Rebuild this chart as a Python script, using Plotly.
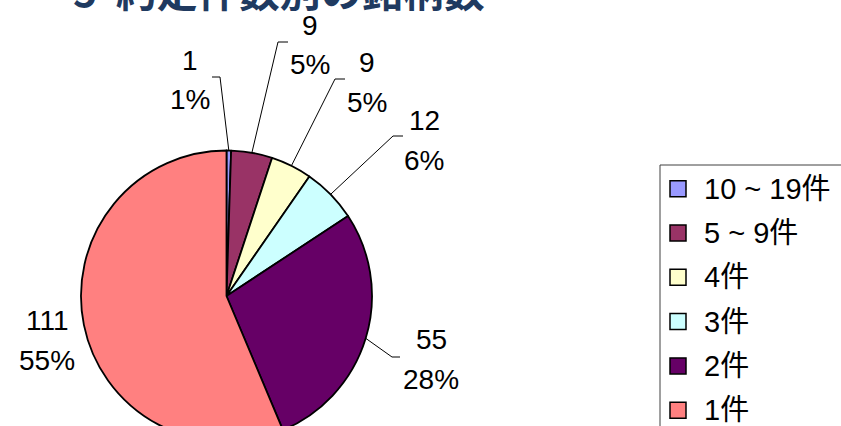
import math
import plotly.graph_objects as go

# ---- data ----
categories = ["10 ~ 19件", "5 ~ 9件", "4件", "3件", "2件", "1件"]
counts = [1, 9, 9, 12, 55, 111]
pct_labels = ["1%", "5%", "5%", "6%", "28%", "55%"]
title_text = "5\u00a0\u00a0約定件数別の銘柄数"

# ---- style / layout ----
colors = ["#9999FF", "#993366", "#FFFFCC", "#CCFFFF", "#660066", "#FF8080"]
W, H = 841, 460
CX, CY, R = 226.5, 296.0, 145.5
# label first-line centre (px) and leader-line elbow (px) per slice
label_pos = [(190, 60), (310, 25), (367, 62), (424, 120), (431, 339), (47, 320)]
elbows = [((220, 77), (212, 77)), ((278, 42), (288, 42)), ((335, 79), (345, 79)),
          ((393, 136), (403, 136)), ((392, 357), (400, 357)), None]
LINE_GAP = 40
FONT = "Liberation Sans, Arial, Noto Sans CJK JP, sans-serif"


def px(x):
    return x / W


def py(y):
    return (H - y) / H


fig = go.Figure()
fig.add_trace(go.Pie(
    labels=categories, values=counts, sort=False, direction="clockwise",
    rotation=0, textinfo="none", showlegend=False,
    marker=dict(colors=colors, line=dict(color="black", width=1.8)),
    domain=dict(x=[px(CX - R), px(CX + R)], y=[py(CY + R), py(CY - R)]),
))

annotations = []
shapes = []
total = sum(counts)
cum = 0
for i, v in enumerate(counts):
    mid = (cum + v / 2) / total * 2 * math.pi
    cum += v
    ex, ey = CX + R * math.sin(mid), CY - R * math.cos(mid)
    lx, ly = label_pos[i]
    annotations.append(dict(x=px(lx), y=py(ly), xref="paper", yref="paper",
                            text=str(v), showarrow=False, xanchor="center", yanchor="middle",
                            font=dict(family=FONT, size=28, color="black")))
    annotations.append(dict(x=px(lx), y=py(ly + LINE_GAP), xref="paper", yref="paper",
                            text=pct_labels[i], showarrow=False, xanchor="center", yanchor="middle",
                            font=dict(family=FONT, size=28, color="black")))
    if elbows[i] is not None:
        (bx, by), (hx, hy) = elbows[i]
        shapes.append(dict(type="path", xref="paper", yref="paper",
                           path=f"M {px(ex)} {py(ey)} L {px(bx)} {py(by)} L {px(hx)} {py(hy)}",
                           line=dict(color="black", width=1)))

# legend (manual)
shapes.append(dict(type="rect", xref="paper", yref="paper",
                   x0=px(660), x1=px(900), y0=py(165), y1=py(520),
                   line=dict(color="#404040", width=1), fillcolor="rgba(0,0,0,0)"))
for i, (lab, col) in enumerate(zip(categories, colors)):
    yc = 188.7 + i * 44.3
    shapes.append(dict(type="rect", xref="paper", yref="paper",
                       x0=px(670), x1=px(686), y0=py(yc + 8), y1=py(yc - 8),
                       line=dict(color="black", width=1.5), fillcolor=col))
    annotations.append(dict(x=px(702), y=py(yc), xref="paper", yref="paper",
                            text=lab, showarrow=False, xanchor="left", yanchor="middle",
                            font=dict(family=FONT, size=29, color="black")))

# title (partially cropped at top)
annotations.append(dict(x=px(71), y=py(-11), xref="paper", yref="paper",
                        text=f"<b>{title_text}</b>", showarrow=False,
                        xanchor="left", yanchor="middle",
                        font=dict(family="Noto Sans CJK JP", size=41, color="#1F3A60")))

fig.update_layout(width=W, height=H, margin=dict(l=0, r=0, t=0, b=0),
                  paper_bgcolor="white", plot_bgcolor="white",
                  annotations=annotations, shapes=shapes)

fig.write_html("out.html", config={"displayModeBar": False},
               post_script="document.body.style.margin='0';document.documentElement.style.overflow='hidden';document.body.style.overflow='hidden';")
